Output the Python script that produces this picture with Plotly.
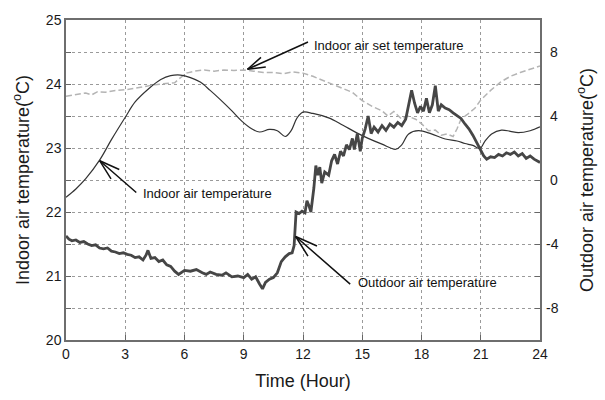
import plotly.graph_objects as go

# ---------------- data ----------------
indoor_t = [0, 0.5, 1.0, 1.7, 2.3, 3.0, 3.5, 4.2, 4.8, 5.3, 5.8, 6.3, 6.8, 7.3, 7.8, 8.4, 8.9,
            9.4, 9.8, 10.3, 10.7, 11.1, 11.4, 11.7, 12.0, 12.5, 13.3, 14.0, 14.7, 15.3, 16.0,
            16.7, 17.0, 17.35, 17.85, 18.5, 19.2, 19.8, 20.2, 20.6, 20.96, 21.2, 21.55, 22.05,
            22.5, 22.9, 23.5, 24.0]
indoor_v = [22.23, 22.36, 22.52, 22.81, 23.13, 23.48, 23.72, 23.93, 24.07, 24.13, 24.14, 24.10,
            24.03, 23.90, 23.76, 23.58, 23.42, 23.30, 23.25, 23.29, 23.27, 23.18, 23.27, 23.47,
            23.56, 23.54, 23.47, 23.36, 23.24, 23.15, 23.06, 22.98, 23.05, 23.22, 23.27, 23.22,
            23.14, 23.11, 23.07, 23.04, 22.99, 23.10, 23.22, 23.28, 23.26, 23.24, 23.27, 23.33]

set_t = [0, 0.5, 1.0, 1.3, 1.6, 2.0, 2.5, 3.0, 3.5, 4.0, 4.5, 5.0, 5.5, 5.8, 6.1, 6.5, 7.0,
         7.5, 8.0, 8.5, 9.0, 9.5, 10.0, 10.5, 11.0, 11.5, 12.0, 12.5, 13.0, 13.5, 14.0, 14.5,
         15.0, 15.5, 16.0, 16.3, 16.6, 17.0, 17.3, 17.7, 18.0, 18.35, 18.7, 19.0, 19.3, 19.6,
         19.8, 20.0, 20.3, 20.7, 21.0, 21.5, 22.0, 22.5, 23.0, 23.5, 24.0]
set_v = [23.81, 23.83, 23.86, 23.83, 23.88, 23.87, 23.90, 23.91, 23.93, 23.96, 23.99, 24.00,
         24.02, 24.10, 24.17, 24.20, 24.22, 24.20, 24.22, 24.21, 24.22, 24.20, 24.18, 24.18,
         24.16, 24.19, 24.17, 24.12, 24.06, 24.00, 23.93, 23.87, 23.74, 23.65, 23.58, 23.50,
         23.57, 23.45, 23.50, 23.45, 23.38, 23.27, 23.28, 23.20, 23.22, 23.18, 23.30, 23.45,
         23.52, 23.62, 23.75, 23.90, 24.03, 24.12, 24.18, 24.23, 24.28]

out_t = [0.0, 0.15, 0.3, 0.5, 0.7, 0.9, 1.1, 1.3, 1.5, 1.7, 1.9, 2.1, 2.3, 2.5, 2.7, 2.9, 3.1,
         3.3, 3.5, 3.7, 3.9, 4.05, 4.15, 4.3, 4.5, 4.7, 4.9, 5.1, 5.3, 5.5, 5.7, 5.85, 6.0,
         6.3, 6.6, 6.9, 7.1, 7.3, 7.6, 7.9, 8.1, 8.4, 8.7, 9.0, 9.2, 9.4, 9.6, 9.8, 9.95,
         10.1, 10.3, 10.5, 10.7, 10.9, 11.1, 11.3, 11.45, 11.55, 11.65, 11.8, 11.95, 12.1,
         12.2, 12.3, 12.4, 12.55, 12.65, 12.75, 12.85, 12.95, 13.1, 13.3, 13.45, 13.6, 13.75,
         13.9, 14.05, 14.2, 14.35, 14.5, 14.6, 14.75, 14.9, 15.0, 15.15, 15.3, 15.45, 15.6,
         15.8, 16.0, 16.2, 16.4, 16.6, 16.8, 17.0, 17.2, 17.35, 17.5, 17.65, 17.8, 17.95,
         18.1, 18.25, 18.4, 18.55, 18.7, 18.85, 19.0, 19.2, 19.4, 19.6, 19.8, 20.0, 20.2,
         20.4, 20.6, 20.8, 21.0, 21.15, 21.3, 21.5, 21.7, 21.9, 22.1, 22.3, 22.5, 22.7, 22.9,
         23.1, 23.3, 23.5, 23.7, 23.9, 24.0]
out_v = [-3.5, -3.7, -3.8, -3.75, -3.9, -3.85, -4.0, -4.1, -4.05, -4.25, -4.3, -4.25, -4.45,
         -4.5, -4.6, -4.55, -4.65, -4.7, -4.85, -4.8, -5.0, -4.7, -4.4, -4.9, -4.85, -5.1,
         -5.0, -5.3, -5.4, -5.7, -5.9, -5.75, -5.65, -5.7, -5.6, -5.8, -5.9, -5.75, -5.9,
         -5.95, -5.8, -6.05, -6.0, -6.1, -5.9, -6.2, -6.05, -6.5, -6.8, -6.4, -6.2, -6.1,
         -5.8, -5.1, -4.8, -4.6, -4.55, -4.1, -2.0, -2.1, -1.95, -2.05, -1.3, -1.6, -2.0,
         -0.5, 0.9, 0.3, 0.8, -0.2, 0.5, 0.3, 1.2, 1.6, 1.0, 1.8, 1.5, 2.2, 1.9, 2.6, 1.9,
         2.9, 1.8, 2.6, 3.2, 4.0, 2.9, 3.3, 3.0, 3.4, 3.1, 3.5, 3.3, 3.6, 3.4, 3.8, 4.6, 5.6,
         4.8, 4.2, 4.6, 4.3, 5.1, 4.2, 4.7, 5.9, 4.3, 4.7, 4.5, 4.4, 4.2, 4.0, 3.85, 3.5,
         3.2, 2.8, 2.3, 1.9, 1.5, 1.3, 1.45, 1.4, 1.6, 1.5, 1.7, 1.6, 1.75, 1.5, 1.65, 1.35,
         1.5, 1.3, 1.2, 1.1]

x_ticks = [0, 3, 6, 9, 12, 15, 18, 21, 24]
y_ticks = [20, 20.5, 21, 21.5, 22, 22.5, 23, 23.5, 24, 24.5, 25]
y_labels = ["20", "", "21", "", "22", "", "23", "", "24", "", "25"]
y2_ticks = [-8, -6, -4, -2, 0, 2, 4, 6, 8]
y2_labels = ["-8", "", "-4", "", "\u20080", "", "\u20084", "", "\u20088"]

FONT = "Liberation Sans, Arial, sans-serif"

fig = go.Figure()
fig.add_trace(go.Scatter(x=set_t, y=set_v, mode="lines",
                         line=dict(color="#b4b4b4", width=1.5, dash="6px,3px"),
                         showlegend=False))
fig.add_trace(go.Scatter(x=indoor_t, y=indoor_v, mode="lines", line_shape="spline",
                         line=dict(color="#333333", width=1.2), showlegend=False))
fig.add_trace(go.Scatter(x=out_t, y=out_v, mode="lines", yaxis="y2",
                         line=dict(color="#464646", width=2.8), showlegend=False))

grid = dict(showgrid=True, gridcolor="#9a9a9a", griddash="dot", gridwidth=1)

fig.update_layout(
    width=605, height=400,
    margin=dict(l=66, r=63, t=16, b=55),
    paper_bgcolor="white", plot_bgcolor="white",
    font=dict(family=FONT, color="#1a1a1a", size=14),
    xaxis=dict(range=[0, 24], tickmode="array", tickvals=x_ticks,
               ticks="inside", ticklen=5, tickcolor="#666",
               showline=True, mirror=True, linecolor="#6e6e6e", linewidth=1.5,
               zeroline=False, tickfont=dict(size=14),
               title=dict(text="Time (Hour)", font=dict(size=18), standoff=14),
               **grid),
    yaxis=dict(range=[20, 25], tickmode="array", tickvals=y_ticks, ticktext=y_labels,
               ticks="inside", ticklen=5, tickcolor="#666",
               showline=True, mirror=True, linecolor="#6e6e6e", linewidth=1.5,
               zeroline=False, tickfont=dict(size=14),
               title=dict(text="Indoor air temperature(<sup>o</sup>C)", font=dict(size=18),
                          standoff=12),
               **grid),
    yaxis2=dict(range=[-10, 10], overlaying="y", side="right", tickmode="array",
                tickvals=y2_ticks, ticktext=y2_labels,
                ticks="inside", ticklen=5, tickcolor="#666", ticklabelstandoff=5,
                showgrid=False, zeroline=False, tickfont=dict(size=14),
                title=dict(text="Outdoor air temperature(<sup>o</sup>C)", font=dict(size=18),
                           standoff=22)),
)

# arrows: shaft + two arms, each drawn as a plain annotation line
def arrow(x, y, ax, ay, arms, yref="y"):
    for (dx, dy) in [(ax, ay)] + arms:
        fig.add_annotation(x=x, y=y, xref="x", yref=yref, ax=dx, ay=dy,
                           axref="pixel", ayref="pixel", text="", showarrow=True,
                           arrowhead=0, arrowwidth=1.5, arrowcolor="#111", standoff=0,
                           startstandoff=0)

arrow(9.19, 24.23, 62, -28, [(19.8, -2.5), (15.0, -13.2)])
arrow(1.71, 22.80, 38, 33, [(21.0, 9.4), (12.2, 19.5)])
arrow(11.63, -3.53, 56, 49, [(22.8, 10.2), (13.2, 21.2)], yref="y2")

labels = [("Indoor air set temperature", 12.46, 24.60),
          ("Indoor air temperature", 3.78, 22.29),
          ("Outdoor air temperature", 14.66, 20.90)]
for txt, lx, ly in labels:
    fig.add_annotation(x=lx, y=ly, xref="x", yref="y", text=txt, showarrow=False,
                       xanchor="left", yanchor="middle",
                       font=dict(size=13, color="#111", family=FONT))

fig.write_html("out.html")
